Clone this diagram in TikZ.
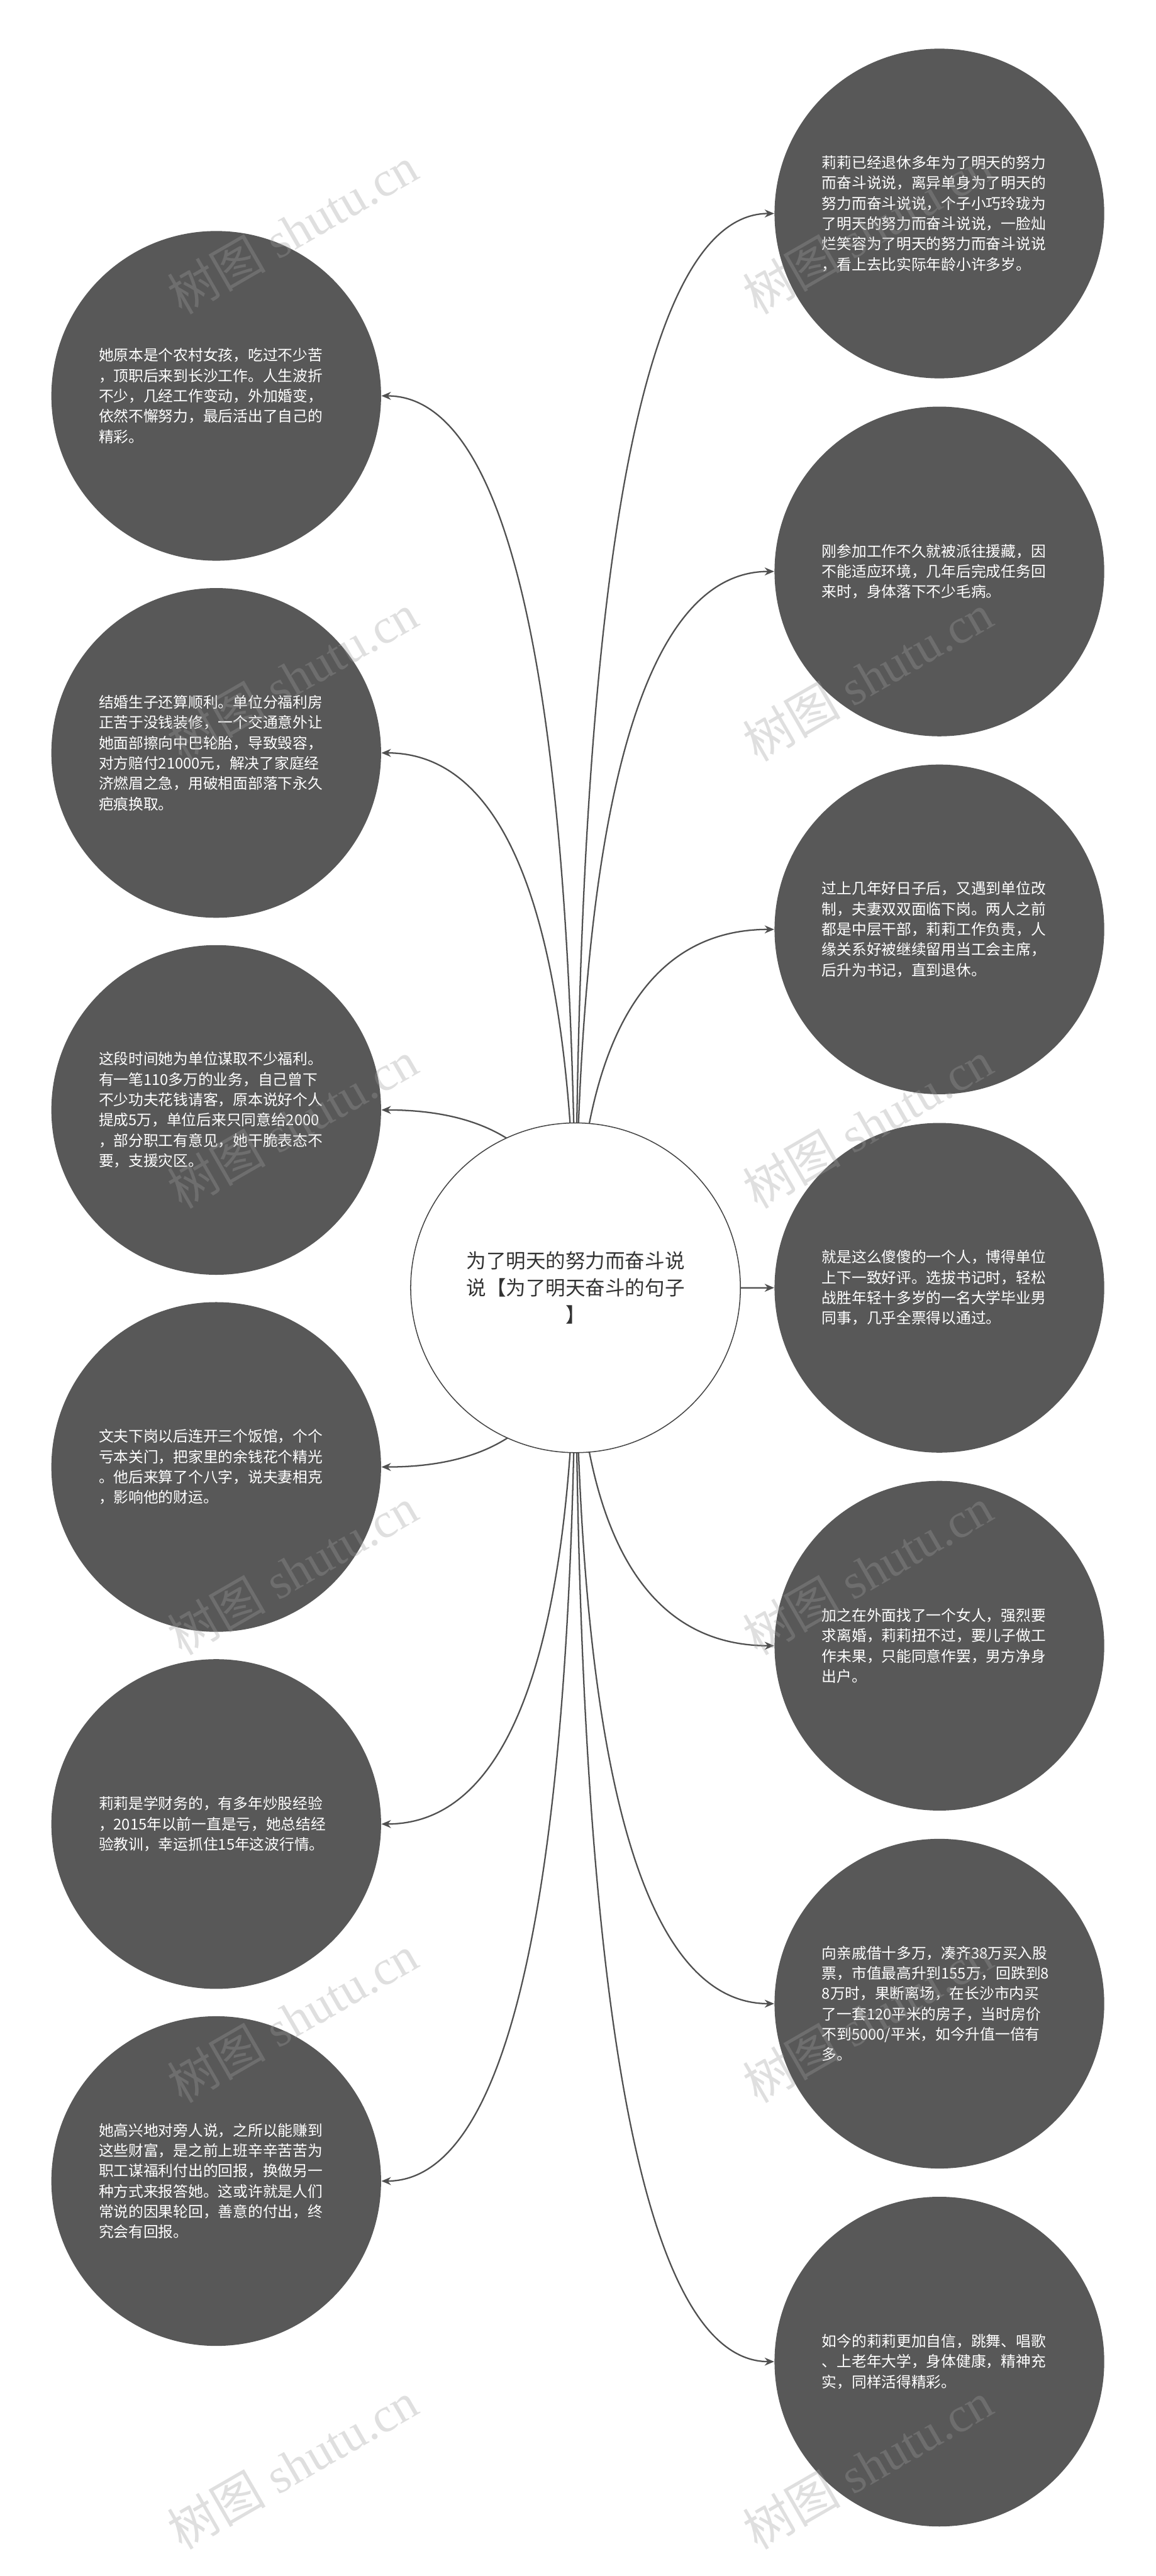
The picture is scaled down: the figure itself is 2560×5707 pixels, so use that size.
\documentclass[tikz,border=0pt]{standalone}
\usepackage{fontspec}
\setmainfont{Liberation Serif}
\newfontfamily\cjk{Noto Sans CJK SC}
\usetikzlibrary{calc,arrows.meta,backgrounds}
\definecolor{bubfill}{HTML}{585858}
\definecolor{lncol}{HTML}{505050}
\definecolor{ctrline}{HTML}{444444}
\definecolor{ctrtext}{HTML}{333333}
\definecolor{wmcol}{HTML}{9E9E9E}
\tikzset{
  bub/.style={circle, fill=bubfill, minimum size=7.3cm, inner sep=0pt,
    text width=5.2cm, align=left, text=white,
    font=\cjk\fontsize{9.4pt}{12.8pt}\selectfont},
  ctr/.style={circle, draw=ctrline, fill=white, line width=0.6pt, minimum size=7.3cm,
    inner sep=0pt, align=center, text=ctrtext,
    font=\cjk\fontsize{12.5pt}{17pt}\selectfont},
  conn/.style={draw=lncol, line width=0.9pt, -{Stealth[length=6pt,width=5pt]}},
  wm/.style={text=wmcol, text opacity=0.32, rotate=30, inner sep=0pt,
    font=\fontsize{31pt}{34pt}\selectfont}
}
\begin{document}
\begin{tikzpicture}[x=0.01cm,y=-0.01cm]
\useasboundingbox (0,0) rectangle (2560,5707);

\node[ctr] (c) at (1275,2853) {为了明天的努力而奋斗说\\说【为了明天奋斗的句子\\】};

\node[bub] (l1) at (479,877) {她原本是个农村女孩，吃过不少苦\\，顶职后来到长沙工作。人生波折\\不少，几经工作变动，外加婚变，\\依然不懈努力，最后活出了自己的\\精彩。};
\node[bub] (l2) at (479,1668) {结婚生子还算顺利。单位分福利房\\正苦于没钱装修，一个交通意外让\\她面部擦向中巴轮胎，导致毁容，\\对方赔付21000元，解决了家庭经\\济燃眉之急，用破相面部落下永久\\疤痕换取。};
\node[bub] (l3) at (479,2459) {这段时间她为单位谋取不少福利。\\有一笔110多万的业务，自己曾下\\不少功夫花钱请客，原本说好个人\\提成5万，单位后来只同意给2000\\，部分职工有意见，她干脆表态不\\要，支援灾区。};
\node[bub] (l4) at (479,3250) {文夫下岗以后连开三个饭馆，个个\\亏本关门，把家里的余钱花个精光\\。他后来算了个八字，说夫妻相克\\，影响他的财运。};
\node[bub] (l5) at (479,4041) {莉莉是学财务的，有多年炒股经验\\，2015年以前一直是亏，她总结经\\验教训，幸运抓住15年这波行情。};
\node[bub] (l6) at (479,4832) {她高兴地对旁人说，之所以能赚到\\这些财富，是之前上班辛辛苦苦为\\职工谋福利付出的回报，换做另一\\种方式来报答她。这或许就是人们\\常说的因果轮回，善意的付出，终\\究会有回报。};

\node[bub] (r1) at (2081,473) {莉莉已经退休多年为了明天的努力\\而奋斗说说，离异单身为了明天的\\努力而奋斗说说，个子小巧玲珑为\\了明天的努力而奋斗说说，一脸灿\\烂笑容为了明天的努力而奋斗说说\\，看上去比实际年龄小许多岁。};
\node[bub] (r2) at (2081,1266) {刚参加工作不久就被派往援藏，因\\不能适应环境，几年后完成任务回\\来时，身体落下不少毛病。};
\node[bub] (r3) at (2081,2059) {过上几年好日子后，又遇到单位改\\制，夫妻双双面临下岗。两人之前\\都是中层干部，莉莉工作负责，人\\缘关系好被继续留用当工会主席，\\后升为书记，直到退休。};
\node[bub] (r4) at (2081,2853) {就是这么傻傻的一个人，博得单位\\上下一致好评。选拔书记时，轻松\\战胜年轻十多岁的一名大学毕业男\\同事，几乎全票得以通过。};
\node[bub] (r5) at (2081,3646) {加之在外面找了一个女人，强烈要\\求离婚，莉莉扭不过，要儿子做工\\作未果，只能同意作罢，男方净身\\出户。};
\node[bub] (r6) at (2081,4439) {向亲戚借十多万，凑齐38万买入股\\票，市值最高升到155万，回跌到8\\8万时，果断离场，在长沙市内买\\了一套120平米的房子，当时房价\\不到5000/平米，如今升值一倍有\\多。};
\node[bub] (r7) at (2081,5232) {如今的莉莉更加自信，跳舞、唱歌\\、上老年大学，身体健康，精神充\\实，同样活得精彩。};

\begin{scope}[on background layer]
\fill[white] (0,0) rectangle (2560,5707);
\foreach \i in {1,...,6}
  \draw[conn] (c.center) .. controls ($(c.center)!2/3!(c.center |- l\i.east)$)
    and ($(l\i.east)!2/3!(c.center |- l\i.east)$) .. (l\i.east);
\foreach \i in {1,...,7}
  \draw[conn] (c.center) .. controls ($(c.center)!2/3!(c.center |- r\i.west)$)
    and ($(r\i.west)!2/3!(c.center |- r\i.west)$) .. (r\i.west);
\end{scope}

\foreach \y [count=\k] in {510,1500,2491,3481,4472,5462} {
  \node[wm] (wl\k) at (648,\y) {{\cjk 树图} shutu.cn};
  \node[wm] (wr\k) at (1922,\y) {{\cjk 树图} shutu.cn};
}
\end{tikzpicture}
\end{document}
